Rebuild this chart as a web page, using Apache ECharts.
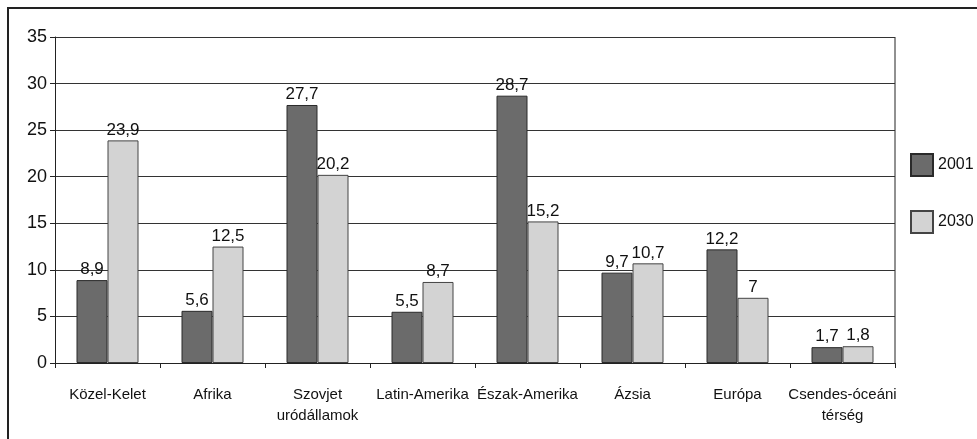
<!DOCTYPE html>
<html>
<head>
<meta charset="utf-8">
<script src="https://cdn.jsdelivr.net/npm/echarts@6/dist/echarts.min.js"></script>
<style>
  html, body { margin: 0; padding: 0; background: #fff; }
  #chart { width: 977px; height: 439px; }
</style>
</head>
<body>
<div id="chart"></div>
<script>
const categories = [
  "Közel-Kelet", "Afrika", "Szovjet\nuródállamok", "Latin-Amerika",
  "Észak-Amerika", "Ázsia", "Európa", "Csendes-óceáni\ntérség"
];
const values2001 = [8.9, 5.6, 27.7, 5.5, 28.7, 9.7, 12.2, 1.7];
const values2030 = [23.9, 12.5, 20.2, 8.7, 15.2, 10.7, 7, 1.8];
const seriesNames = ["2001", "2030"];

const font = "'Liberation Sans', Arial, sans-serif";
const commaLabel = (p) => String(p.value).replace(".", ",");

const chart = echarts.init(document.getElementById("chart"));
chart.setOption({
  animation: false,
  backgroundColor: "#fff",
  textStyle: { fontFamily: font },
  graphic: [
    {
      type: "rect",
      shape: { x: 8, y: 8, width: 1000, height: 500 },
      style: { fill: "none", stroke: "#222", lineWidth: 2 },
      silent: true,
    },
    {
      type: "line",
      shape: { x1: 895, y1: 37, x2: 895, y2: 363 },
      style: { stroke: "#222", lineWidth: 1 },
      silent: true,
    },
  ],
  grid: { left: 55, right: 82, top: 37, bottom: 76 },
  legend: {
    orient: "vertical",
    left: 905,
    top: 148,
    itemWidth: 22,
    itemHeight: 22,
    itemGap: 33,
    icon: "rect",
    textStyle: { fontFamily: font, fontSize: 16, color: "#111" },
    data: seriesNames,
  },
  xAxis: {
    type: "category",
    data: categories,
    axisLine: { lineStyle: { color: "#222", width: 1 } },
    axisTick: { show: true, alignWithLabel: false, length: 5, lineStyle: { color: "#222" } },
    axisLabel: {
      interval: 0,
      margin: 21,
      fontFamily: font,
      fontSize: 15,
      color: "#111",
      lineHeight: 21,
    },
  },
  yAxis: {
    type: "value",
    min: 0,
    max: 35,
    interval: 5,
    axisLine: { show: true, lineStyle: { color: "#222" } },
    axisTick: { show: true, length: 5, lineStyle: { color: "#222" } },
    axisLabel: { fontFamily: font, fontSize: 18, color: "#111", margin: 8 },
    splitLine: { lineStyle: { color: "#333", width: 1 } },
  },
  series: [
    {
      name: seriesNames[0],
      type: "bar",
      data: values2001,
      barWidth: 31,
      barGap: "0%",
      itemStyle: { color: "#6b6b6b", borderColor: "#2a2a2a", borderWidth: 1 },
      label: {
        show: true,
        position: "top",
        distance: 2,
        formatter: commaLabel,
        fontFamily: font,
        fontSize: 17,
        color: "#111",
      },
    },
    {
      name: seriesNames[1],
      type: "bar",
      data: values2030,
      barWidth: 31,
      itemStyle: { color: "#d3d3d3", borderColor: "#444", borderWidth: 1 },
      label: {
        show: true,
        position: "top",
        distance: 2,
        formatter: commaLabel,
        fontFamily: font,
        fontSize: 17,
        color: "#111",
      },
    },
  ],
});
</script>
</body>
</html>
